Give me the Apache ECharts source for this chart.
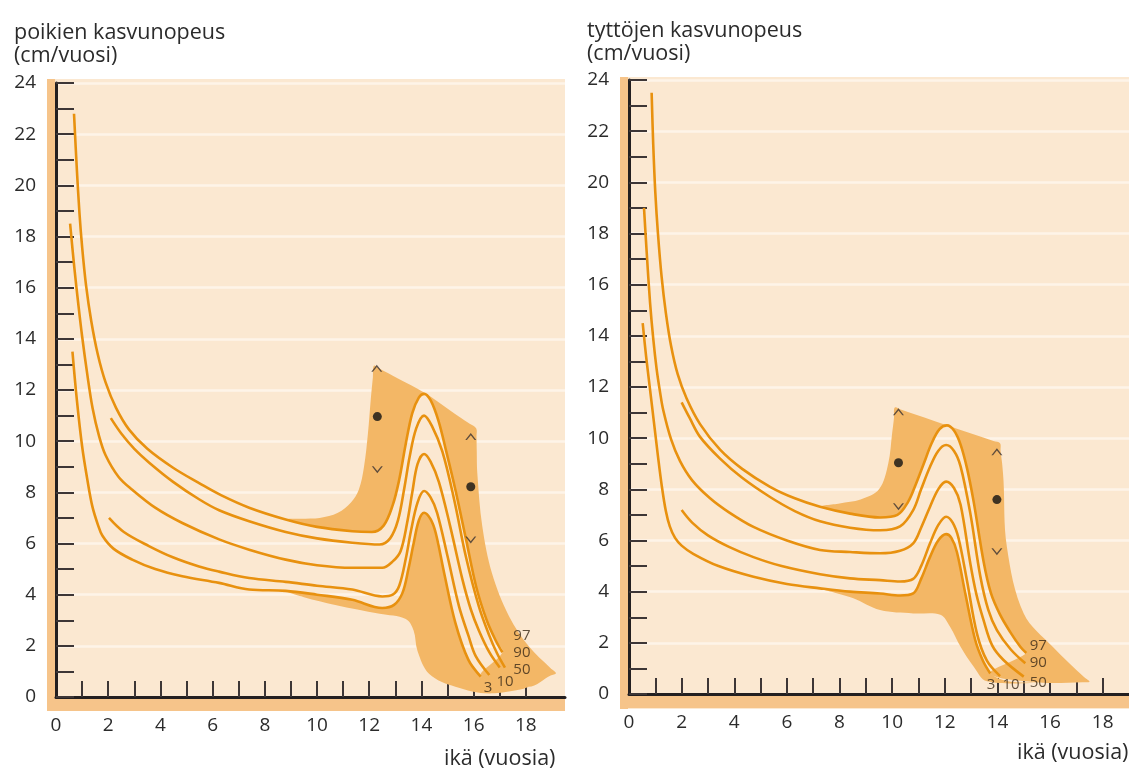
<!DOCTYPE html>
<html><head><meta charset="utf-8">
<script src="https://cdn.jsdelivr.net/npm/echarts@6/dist/echarts.min.js"></script>
<style>html,body{margin:0;padding:0;background:#fff}#c{width:1129px;height:770px}</style>
</head><body><div id="c"></div>
<script>
// ---------- data (age in years, growth velocity cm/year) ----------
const xLabels = [0,2,4,6,8,10,12,14,16,18];
const yLabels = [0,2,4,6,8,10,12,14,16,18,20,22,24];
const xTicks = [1,2,3,4,5,6,7,8,9,10,11,12,13,14,15,16,17,18];

// boys percentile curves
const b97 = [[0.69,22.8],[0.8,20.6],[0.9,18.9],[1.0,17.6],[1.15,16.1],[1.35,14.7],[1.6,13.4],[1.9,12.3],[2.3,11.3],[2.8,10.45],[3.5,9.7],[4.5,8.95],[5.5,8.35],[6.3,7.9],[7.4,7.4],[8.8,6.94],[10.0,6.65],[11.35,6.48],[12.1,6.45],[12.55,6.7],[12.9,7.5],[13.15,8.5],[13.4,9.9],[13.65,11.1],[13.9,11.7],[14.1,11.85],[14.35,11.6],[14.65,10.8],[14.95,9.6],[15.3,8.1],[15.7,6.2],[16.1,4.3],[16.5,3.0],[16.85,2.2],[17.1,1.75]];
const b90 = [[2.1,10.9],[2.5,10.3],[3.0,9.7],[3.56,9.17],[4.5,8.4],[5.48,7.73],[6.25,7.3],[7.4,6.87],[8.8,6.45],[10.0,6.2],[11.35,6.03],[12.4,5.96],[12.8,6.2],[13.1,6.9],[13.35,8.2],[13.55,9.4],[13.8,10.5],[14.1,11.0],[14.4,10.6],[14.8,9.6],[15.25,7.73],[15.7,5.5],[16.2,3.54],[16.6,2.4],[16.9,1.7],[17.2,1.15]];
const b50 = [[0.54,18.5],[0.7,16.8],[0.85,15.4],[1.0,14.1],[1.2,12.6],[1.4,11.3],[1.65,10.2],[1.9,9.45],[2.4,8.6],[2.92,8.1],[3.8,7.4],[4.84,6.8],[6.25,6.16],[7.4,5.76],[8.8,5.37],[10.0,5.15],[11.35,5.05],[12.5,5.05],[12.9,5.3],[13.2,5.7],[13.45,6.8],[13.65,8.0],[13.85,9.1],[14.1,9.5],[14.35,9.2],[14.67,8.4],[15.1,6.68],[15.57,4.6],[15.9,3.4],[16.2,2.6],[16.6,1.75],[17.0,1.15]];
const b10 = [[2.03,7.0],[2.6,6.45],[3.56,5.9],[4.5,5.45],[5.48,5.1],[6.25,4.9],[7.4,4.65],[8.8,4.5],[10.0,4.35],[11.35,4.2],[12.5,3.93],[12.9,4.0],[13.15,4.35],[13.4,5.4],[13.6,6.5],[13.85,7.6],[14.1,8.05],[14.35,7.8],[14.6,7.2],[15.0,5.5],[15.44,3.54],[15.8,2.4],[16.08,1.6],[16.6,0.86]];
const b3 = [[0.63,13.5],[0.8,11.6],[1.0,9.8],[1.2,8.5],[1.39,7.46],[1.6,6.75],[1.78,6.3],[2.2,5.8],[2.92,5.37],[3.8,5.0],[4.84,4.72],[6.25,4.46],[7.4,4.2],[8.8,4.15],[10.0,4.0],[11.35,3.8],[12.5,3.48],[12.95,3.6],[13.27,4.06],[13.5,5.0],[13.7,6.0],[13.9,6.9],[14.1,7.2],[14.35,6.95],[14.55,6.4],[14.87,4.85],[15.3,2.9],[15.8,1.45],[16.27,0.8]];
// boys shaded spread band: outer edge above/right of the curves, and edge below them
const bBandTop = [[10.1,7.0],[10.8,7.2],[11.3,7.6],[11.6,8.1],[11.8,9.0],[11.95,10.3],[12.06,11.65],[12.14,12.5],[12.18,12.95],[12.4,12.83],[13.1,12.45],[14.1,11.9],[15.1,11.2],[15.85,10.68],[16.1,10.5],[16.11,10.2],[16.12,9.6],[16.14,8.76],[16.33,6.68],[16.7,4.85],[17.36,3.15],[18.12,1.97],[18.95,1.12],[19.15,0.93],[18.95,0.84],[18.1,0.4]];
const bBandBottom = [[16.9,0.55],[18.1,0.4],[16.6,0.14],[15.3,0.4],[14.3,0.9],[13.85,1.8],[13.7,2.6],[13.4,3.05],[12.4,3.25],[10.7,3.6],[9.5,3.9]];
const bBandStart = 8.8;
// boys individual markers (upper limit, value, lower limit)
const bUp = [[12.29,12.85],[15.89,10.18]];
const bDot = [[12.31,10.96],[15.89,8.22]];
const bDown = [[12.31,8.88],[15.89,6.14]];
const bPctLabels = [['97',17.85,2.38],['90',17.85,1.72],['50',17.85,1.06],['10',17.2,0.59],['3',16.55,0.35]];

// girls percentile curves
const g97 = [[0.86,23.5],[0.92,21.5],[1.0,19.6],[1.1,18.0],[1.24,16.3],[1.4,14.9],[1.6,13.6],[1.85,12.5],[2.19,11.55],[2.7,10.55],[3.46,9.55],[4.3,8.8],[5.36,8.1],[6.3,7.65],[7.26,7.32],[8.4,7.05],[9.54,6.9],[10.2,7.0],[10.6,7.5],[10.9,8.2],[11.2,9.0],[11.5,9.8],[11.8,10.35],[12.08,10.5],[12.35,10.3],[12.6,9.75],[12.85,8.8],[13.1,7.5],[13.47,5.2],[13.75,3.95],[14.1,3.1],[14.5,2.4],[14.87,1.85],[15.1,1.6]];
const g90 = [[2.0,11.4],[2.3,10.8],[2.7,10.05],[3.46,9.2],[4.3,8.45],[5.36,7.7],[6.3,7.15],[7.26,6.75],[8.4,6.5],[9.54,6.4],[10.3,6.55],[10.8,7.19],[11.1,8.0],[11.44,8.88],[11.75,9.5],[12.05,9.73],[12.35,9.5],[12.6,8.9],[12.97,7.06],[13.35,4.6],[13.65,3.3],[13.98,2.5],[14.5,1.75],[15.06,1.2]];
const g50 = [[0.57,19.0],[0.67,17.3],[0.8,15.3],[0.92,13.9],[1.05,12.7],[1.18,11.8],[1.3,11.1],[1.6,9.95],[1.94,9.1],[2.4,8.35],[3.08,7.65],[3.8,7.1],[4.73,6.53],[6.0,6.0],[7.26,5.63],[8.4,5.55],[9.54,5.5],[10.3,5.6],[10.8,5.89],[11.1,6.5],[11.44,7.32],[11.75,8.0],[12.05,8.3],[12.35,8.05],[12.6,7.4],[12.97,5.1],[13.2,3.9],[13.47,2.9],[13.8,1.9],[14.23,1.33],[15.0,0.68]];
const g10 = [[2.0,7.19],[2.4,6.7],[3.0,6.2],[3.8,5.75],[4.73,5.35],[5.8,5.0],[7.26,4.68],[8.4,4.52],[9.54,4.45],[10.3,4.4],[10.8,4.5],[11.1,5.0],[11.44,5.89],[11.75,6.6],[12.05,6.93],[12.3,6.7],[12.52,6.1],[12.84,4.45],[13.22,2.37],[13.6,1.3],[14.1,0.7]];
const g3 = [[0.52,14.5],[0.65,13.2],[0.8,11.9],[0.95,10.6],[1.1,9.3],[1.25,8.1],[1.4,7.15],[1.55,6.55],[1.75,6.1],[2.0,5.8],[2.44,5.48],[3.4,5.0],[4.73,4.58],[6.0,4.3],[7.26,4.13],[8.4,4.0],[9.54,3.93],[10.3,3.85],[10.8,3.93],[11.1,4.5],[11.44,5.36],[11.75,6.0],[12.05,6.25],[12.25,6.1],[12.46,5.55],[12.78,3.93],[13.16,2.1],[13.45,1.3],[13.73,0.8]];
const gBandTop = [[8.0,7.45],[8.8,7.6],[9.5,8.0],[9.85,9.0],[10.0,10.2],[10.07,10.8],[10.1,11.2],[10.35,11.11],[12.1,10.5],[13.85,9.89],[14.1,9.8],[14.12,9.5],[14.18,9.0],[14.23,8.36],[14.36,5.75],[15.0,3.15],[16.1,1.85],[17.3,0.65],[17.5,0.48],[17.25,0.46],[15.6,0.45]];
const gBandBottom = [[14.4,0.5],[15.6,0.45],[13.6,0.5],[13.1,1.07],[12.6,1.85],[12.2,2.63],[11.83,3.1],[10.8,3.15],[9.54,3.28],[8.5,3.75]];
const gBandStart = 7.26;
const gUp = [[10.24,11.03],[13.98,9.47]];
const gDot = [[10.24,9.04],[13.98,7.6]];
const gDown = [[10.24,7.32],[13.98,5.56]];
const gPctLabels = [['97',15.55,1.88],['90',15.55,1.21],['50',15.55,0.43],['10',14.52,0.35],['3',13.76,0.35]];

// ---------- style ----------
const FONT = '"Open Sans", "Noto Sans", sans-serif';
const TXT = '#2b2b2b';
const BG = '#FBE8D1';
const STRIP = '#F6C48A';
const BAND = '#F3B766';
const CURVE = '#E8910F';
const AXIS = '#231f20';
const SMOOTH = 0.35;

const chart = echarts.init(document.getElementById('c'), null, {renderer:'canvas'});

function xAxis(gi, max){
  return {type:'value', gridIndex:gi, min:0, max:max,
    axisLine:{show:true, lineStyle:{color:AXIS, width:3}},
    axisTick:{show:true, inside:true, length:16, customValues:xTicks, lineStyle:{color:'#3d3636', width:2}},
    axisLabel:{customValues:xLabels, margin:19, fontSize:19, fontFamily:FONT, color:TXT},
    splitLine:{show:false}};
}
function yAxis(gi){
  return {type:'value', gridIndex:gi, min:0, max:24, interval:2,
    axisLine:{show:true, lineStyle:{color:AXIS, width:3}},
    axisTick:{show:true, inside:true, length:18, lineStyle:{color:'#3d3636', width:2}},
    minorTick:{show:true, splitNumber:2, length:18, lineStyle:{color:'#3d3636', width:2}},
    axisLabel:{margin:20, fontSize:19, fontFamily:FONT, color:TXT, formatter:v=> yLabels.includes(v)? String(v):''},
    splitLine:{show:true, lineStyle:{color:'#FEF4E8', width:2.5}},
    minorSplitLine:{show:false}};
}
function polygon(gi, pts, color, z){
  return {type:'custom', xAxisIndex:gi, yAxisIndex:gi, z:z, silent:true, data:[pts[0]],
    renderItem:(p, api)=>({type:'polygon', shape:{points:pts.map(q=>api.coord(q)), smooth:SMOOTH}, style:{fill:color}})};
}
function curve(gi, data){
  return {type:'line', xAxisIndex:gi, yAxisIndex:gi, data:data, smooth:SMOOTH, showSymbol:false, silent:true, z:5,
    lineStyle:{color:CURVE, width:2.6}};
}
// band part above the top curve: outer edge, then back along the top curve
function bandUpper(top, hi, lo, t0){
  return top.concat([lo[lo.length-1]], hi.filter(p=>p[0]>=t0).reverse());
}
// band part below the bottom curve: lower edge, then along the bottom curve
function bandLower(bottom, lo, t0){
  return bottom.concat(lo.filter(p=>p[0]>=t0));
}
const UP = 'path://M0,8 L6,0 L12,8 L10.2,8 L6,2.6 L1.8,8 Z';
const DOWN = 'path://M0,0 L6,8 L12,0 L10.2,0 L6,5.4 L1.8,0 Z';
function markers(gi, up, dot, down){
  return [
    {type:'scatter', xAxisIndex:gi, yAxisIndex:gi, data:up, symbol:UP, symbolSize:[11,7], itemStyle:{color:'#3a3232'}, z:6, silent:true},
    {type:'scatter', xAxisIndex:gi, yAxisIndex:gi, data:dot, symbol:'circle', symbolSize:9, itemStyle:{color:'#111'}, z:6, silent:true},
    {type:'scatter', xAxisIndex:gi, yAxisIndex:gi, data:down, symbol:DOWN, symbolSize:[11,7], itemStyle:{color:'#3a3232'}, z:6, silent:true}
  ];
}
function pctLabels(gi, arr){
  return {type:'scatter', xAxisIndex:gi, yAxisIndex:gi, symbolSize:0, z:7, silent:true,
    data:arr.map(a=>({name:a[0], value:[a[1],a[2]]})),
    label:{show:true, position:'inside', formatter:'{b}', fontSize:15, fontFamily:FONT, color:'#3b2a18'}};
}
const titleStyle = {fontFamily:FONT, fontSize:21.5, fontWeight:'normal', color:TXT, lineHeight:23};

const option = {
  backgroundColor:'#ffffff',
  animation:false,
  graphic:[
    {type:'rect', z:-10, shape:{x:47, y:79, width:518, height:632}, style:{fill:BG}},
    {type:'rect', z:-9, shape:{x:47, y:79, width:8, height:632}, style:{fill:STRIP}},
    {type:'rect', z:-9, shape:{x:47, y:697, width:518, height:14}, style:{fill:STRIP}},
    {type:'rect', z:-10, shape:{x:620, y:77, width:509, height:632}, style:{fill:BG}},
    {type:'rect', z:-9, shape:{x:620, y:77, width:8, height:632}, style:{fill:STRIP}},
    {type:'rect', z:-9, shape:{x:620, y:694, width:509, height:14}, style:{fill:STRIP}}
  ],
  title:[
    {text:'poikien kasvunopeus\n(cm/vuosi)', left:9, top:16, textStyle:titleStyle},
    {text:'tyttöjen kasvunopeus\n(cm/vuosi)', left:582, top:14, textStyle:titleStyle},
    {text:'ikä (vuosia)', left:439, top:742, textStyle:titleStyle},
    {text:'ikä (vuosia)', left:1012, top:736, textStyle:titleStyle}
  ],
  grid:[
    {left:56, top:83, width:509, height:614},
    {left:629, top:80, width:500, height:614}
  ],
  xAxis:[xAxis(0,19.5), xAxis(1,19.0)],
  yAxis:[yAxis(0), yAxis(1)],
  series:[
    polygon(0, bandUpper(bBandTop, b97, b3, bBandStart), BAND, 2),
    polygon(0, bandLower(bBandBottom, b3, bBandStart), BAND, 2),
    curve(0,b97), curve(0,b90), curve(0,b50), curve(0,b10), curve(0,b3),
    ...markers(0, bUp, bDot, bDown),
    pctLabels(0, bPctLabels),
    polygon(1, bandUpper(gBandTop, g97, g3, gBandStart), BAND, 2),
    polygon(1, bandLower(gBandBottom, g3, gBandStart), BAND, 2),
    curve(1,g97), curve(1,g90), curve(1,g50), curve(1,g10), curve(1,g3),
    ...markers(1, gUp, gDot, gDown),
    pctLabels(1, gPctLabels)
  ]
};
chart.setOption(option);
</script></body></html>
